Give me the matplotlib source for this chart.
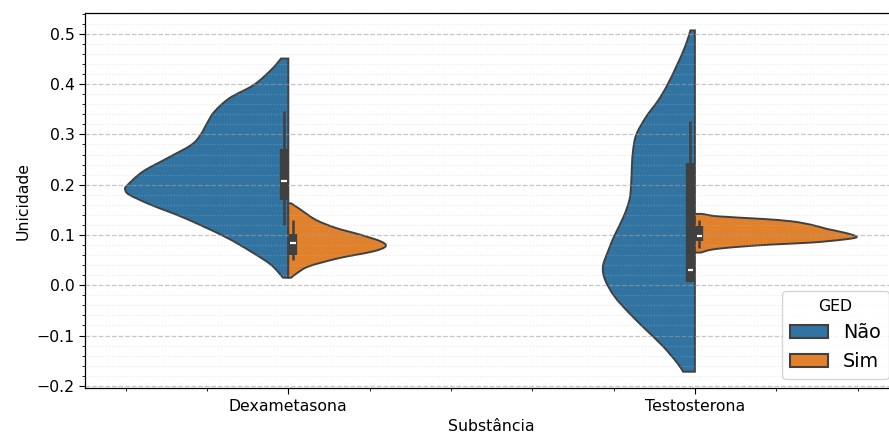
import numpy as np
import matplotlib
matplotlib.use('Agg')
from matplotlib import pyplot as plt
from matplotlib.patches import Patch, PathPatch
from matplotlib.path import Path
from matplotlib.ticker import AutoMinorLocator

substancias = ['Dexametasona', 'Testosterona']
grupos = ['Não', 'Sim']
cores = ['#3274a1', '#e1812c']

# half violin profiles: y value, half width (category units)
dex_nao_y = [0.451, 0.431, 0.399, 0.372, 0.345, 0.325, 0.299, 0.279, 0.253, 0.226, 0.198, 0.190, 0.180, 0.160, 0.134, 0.097, 0.067, 0.041, 0.015]
dex_nao_w = [0.018, 0.039, 0.084, 0.145, 0.182, 0.198, 0.216, 0.239, 0.297, 0.358, 0.397, 0.401, 0.391, 0.338, 0.256, 0.157, 0.092, 0.043, 0.013]

dex_sim_y = [0.163, 0.150, 0.130, 0.114, 0.101, 0.087, 0.077, 0.067, 0.054, 0.038, 0.025, 0.015]
dex_sim_w = [0.007, 0.031, 0.068, 0.117, 0.175, 0.228, 0.239, 0.207, 0.125, 0.052, 0.023, 0.007]

tes_nao_y = [0.507, 0.477, 0.438, 0.398, 0.368, 0.335, 0.300, 0.269, 0.236, 0.198, 0.170, 0.137, 0.0985, 0.071, 0.038, 0.011, -0.022, -0.055, -0.088, -0.121, -0.154, -0.172]
tes_nao_w = [0.011, 0.023, 0.044, 0.068, 0.090, 0.120, 0.144, 0.152, 0.155, 0.157, 0.161, 0.175, 0.198, 0.212, 0.226, 0.221, 0.198, 0.162, 0.121, 0.079, 0.044, 0.029]

tes_sim_y = [0.142, 0.137, 0.132, 0.127, 0.120, 0.112, 0.104, 0.096, 0.091, 0.085, 0.081, 0.076, 0.071, 0.065]
tes_sim_w = [0.017, 0.059, 0.165, 0.239, 0.288, 0.325, 0.371, 0.398, 0.366, 0.288, 0.189, 0.100, 0.042, 0.015]

# inner box: whisker low, q1, median, q3, whisker high
dex_nao_box = [0.119, 0.169, 0.208, 0.272, 0.346]
dex_sim_box = [0.050, 0.061, 0.084, 0.1025, 0.130]
tes_nao_box = [0.007, 0.007, 0.030, 0.243, 0.327]
tes_sim_box = [0.075, 0.088, 0.097, 0.118, 0.130]

perfis = [[(dex_nao_y, dex_nao_w), (dex_sim_y, dex_sim_w)],
          [(tes_nao_y, tes_nao_w), (tes_sim_y, tes_sim_w)]]
caixas = [[dex_nao_box, dex_sim_box], [tes_nao_box, tes_sim_box]]


def meio_violino(centro, lado, y, w):
    # smooth outline through the read points (catmull-rom as bezier curves)
    p = np.column_stack([centro + lado*np.array(w), np.array(y)])
    n = len(p)
    verts = [(centro, y[0]), tuple(p[0])]
    codes = [Path.MOVETO, Path.LINETO]
    for k in range(n - 1):
        a = p[max(k - 1, 0)]
        d = p[min(k + 2, n - 1)]
        c1 = p[k] + (p[k + 1] - a) / 6
        c2 = p[k + 1] - (d - p[k]) / 6
        verts += [tuple(c1), tuple(c2), tuple(p[k + 1])]
        codes += [Path.CURVE4] * 3
    verts += [(centro, y[-1]), (centro, y[0])]
    codes += [Path.LINETO, Path.CLOSEPOLY]
    return Path(verts, codes)


plt.rcParams['font.size'] = 11.3
plt.rcParams['axes.linewidth'] = 0.9
plt.rcParams['xtick.major.size'] = 4
plt.rcParams['ytick.major.size'] = 4
plt.rcParams['xtick.minor.size'] = 2.3
plt.rcParams['ytick.minor.size'] = 2.3

fig = plt.figure(figsize=(8.89, 4.37), dpi=100)
ax = fig.add_axes([85/889, 1-388.3/437, 813.2/889, 375/437])

linha = '#404040'
for i in range(len(substancias)):
    for j in range(len(grupos)):
        y, w = perfis[i][j]
        lado = -1 if j == 0 else 1
        ax.add_patch(PathPatch(meio_violino(i, lado, y, w), facecolor=cores[j],
                               edgecolor=linha, linewidth=1.4, zorder=1))

        b = caixas[i][j]
        xb = i + lado*0.011
        ax.plot([xb, xb], [b[0], b[4]], color=linha, linewidth=1.8, solid_capstyle='butt', zorder=3)
        ax.plot([xb, xb], [b[1], b[3]], color=linha, linewidth=6, solid_capstyle='butt', zorder=3)
        ax.plot([xb-0.007, xb+0.007], [b[2], b[2]], color='white', linewidth=1.6, solid_capstyle='butt', zorder=4)

ax.set_xlim(-0.5, 1.5)
ax.set_ylim(-0.205, 0.541)
ax.set_xticks(range(len(substancias)))
ax.set_xticklabels(substancias)
ax.xaxis.set_minor_locator(AutoMinorLocator())
ax.yaxis.set_minor_locator(AutoMinorLocator())
ax.set_axisbelow(False)
ax.yaxis.grid(True, which='major', linestyle='--', color='#a0a0a0', linewidth=0.9, alpha=0.6)
ax.yaxis.grid(True, which='minor', linestyle=':', color='#c0c0c0', linewidth=0.8, alpha=0.35)
ax.set_xlabel('Substância')
ax.set_ylabel('Unicidade')

handles = [Patch(facecolor=cores[k], edgecolor=linha, linewidth=1.5, label=grupos[k]) for k in range(2)]
ax.legend(handles=handles, title='GED', loc='lower right', fontsize=13.8, title_fontsize=11.3)

fig.savefig('out.png', dpi=100)
